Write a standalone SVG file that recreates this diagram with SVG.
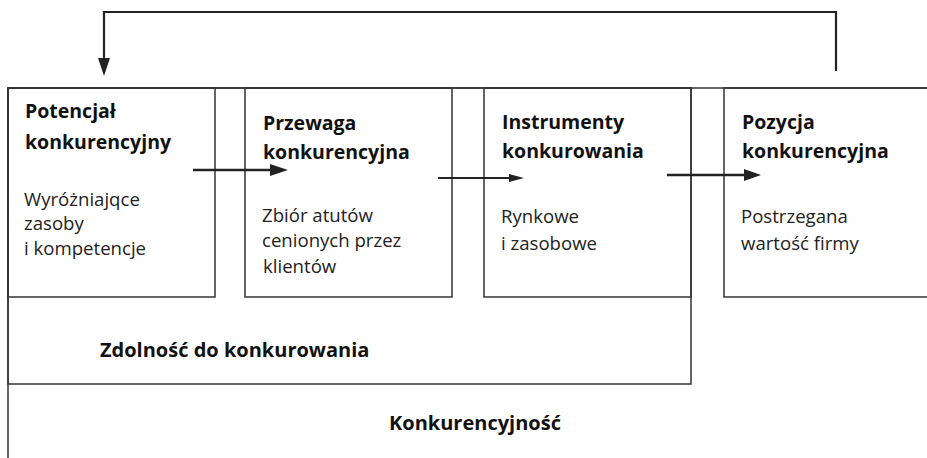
<svg xmlns="http://www.w3.org/2000/svg" width="927" height="458" viewBox="0 0 927 458">
  <style>
    .frame { fill: none; stroke: #333; stroke-width: 1.5; }
    .link { fill: none; stroke: #222; stroke-width: 2.5; }
    .head { fill: #222; }
    .title { font-family: "Open Sans", "Liberation Sans", sans-serif; font-weight: bold; font-size: 19.5px; fill: #111; }
    .caption { font-family: "Open Sans", "Liberation Sans", sans-serif; font-weight: bold; font-size: 20px; fill: #111; }
    .body { font-family: "Open Sans", "Liberation Sans", sans-serif; font-size: 18.6px; fill: #222; }
  </style>
  <rect width="927" height="458" fill="#fff"/>

  <!-- outer frame: competitiveness -->
  <g id="konkurencyjnosc">
    <rect class="frame" x="8" y="88" width="1000" height="500"/>
    <text class="caption" x="389" y="430">Konkurencyjność</text>
  </g>

  <!-- inner frame: ability to compete -->
  <g id="zdolnosc">
    <rect class="frame" x="8" y="88" width="683" height="296"/>
    <text class="caption" x="100" y="357">Zdolność do konkurowania</text>
  </g>

  <g id="potencjal">
    <rect class="frame" x="8" y="88" width="207" height="209" fill="#fff"/>
    <text class="title" x="25" y="118">Potencjał</text>
    <text class="title" x="25" y="149">konkurencyjny</text>
    <text class="body" x="24" y="206">Wyróżniajqce</text>
    <text class="body" x="24" y="230">zasoby</text>
    <text class="body" x="24" y="255">i kompetencje</text>
  </g>

  <g id="przewaga">
    <rect class="frame" x="245" y="88" width="207" height="209" fill="#fff"/>
    <text class="title" x="263" y="130">Przewaga</text>
    <text class="title" x="263" y="159">konkurencyjna</text>
    <text class="body" x="262" y="222">Zbiór atutów</text>
    <text class="body" x="262" y="247">cenionych przez</text>
    <text class="body" x="263" y="273">klientów</text>
  </g>

  <g id="instrumenty">
    <rect class="frame" x="484" y="88" width="207" height="209" fill="#fff"/>
    <text class="title" x="502" y="129">Instrumenty</text>
    <text class="title" x="502" y="158">konkurowania</text>
    <text class="body" x="501" y="223">Rynkowe</text>
    <text class="body" x="501" y="250">i zasobowe</text>
  </g>

  <g id="pozycja">
    <rect class="frame" x="724" y="88" width="300" height="209" fill="#fff"/>
    <text class="title" x="742" y="129">Pozycja</text>
    <text class="title" x="742" y="158">konkurencyjna</text>
    <text class="body" x="741" y="223">Postrzegana</text>
    <text class="body" x="741" y="250">wartość firmy</text>
  </g>

  <!-- connectors -->
  <g id="connectors">
    <line class="link" x1="193" y1="170" x2="272" y2="170"/>
    <polygon class="head" points="270,164 288,170 270,176"/>

    <line class="link" x1="438" y1="178" x2="511" y2="178" style="stroke-width:2"/>
    <polygon class="head" points="509,174 524,178 509,182"/>

    <line class="link" x1="667" y1="175" x2="746" y2="175"/>
    <polygon class="head" points="744,169 761,175 744,181"/>

    <polyline class="link" points="836,71 836,12 104,12 104,60" style="stroke-width:2.2"/>
    <polygon class="head" points="98,58 104,76 110,58"/>
  </g>
</svg>
